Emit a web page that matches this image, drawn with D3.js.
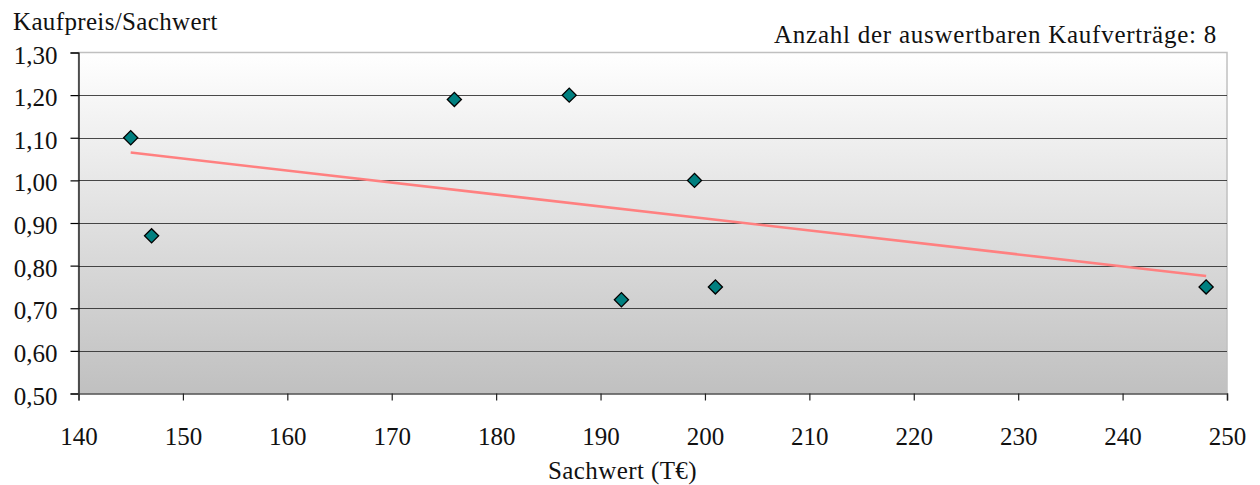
<!DOCTYPE html>
<html>
<head>
<meta charset="utf-8">
<script src="https://cdn.jsdelivr.net/npm/d3@7"></script>
<style>
  html, body { margin: 0; padding: 0; background: #fff; }
  svg { display: block; font-family: "Liberation Serif", "Times New Roman", serif; }
</style>
</head>
<body>
<svg id="chart" width="1260" height="485"></svg>
<script>
// Sachwert (T€) and Kaufpreis/Sachwert ratio for each evaluated sale
const sachwert = [145, 147, 176, 187, 199, 192, 201, 248];
const ratio    = [1.10, 0.87, 1.19, 1.20, 1.00, 0.72, 0.75, 0.75];
const xTicks = [140, 150, 160, 170, 180, 190, 200, 210, 220, 230, 240, 250];
const yTicks = [0.5, 0.6, 0.7, 0.8, 0.9, 1.0, 1.1, 1.2, 1.3];
const yTitle = "Kaufpreis/Sachwert";
const xTitle = "Sachwert (T€)";
const noteText = "Anzahl der auswertbaren Kaufverträge: " + sachwert.length;

const FONT = "'Liberation Serif', 'Times New Roman', serif";
const svg = d3.select("#chart");
const m = { left: 78.5, top: 52.5, right: 1227, bottom: 393.5 };

const x = d3.scaleLinear().domain([140, 250]).range([m.left, m.right]);
const y = d3.scaleLinear().domain([0.5, 1.3]).range([m.bottom, m.top]);
const fmt = d3.format(".2f");
const deFmt = v => fmt(v).replace(".", ",");

// background gradient of the plot area
const defs = svg.append("defs");
const grad = defs.append("linearGradient").attr("id", "bg")
  .attr("x1", 0).attr("y1", 0).attr("x2", 0).attr("y2", 1);
grad.append("stop").attr("offset", "0%").attr("stop-color", "#ffffff");
grad.append("stop").attr("offset", "100%").attr("stop-color", "#c0c0c0");

svg.append("rect")
  .attr("x", m.left).attr("y", m.top)
  .attr("width", m.right - m.left).attr("height", m.bottom - m.top)
  .attr("fill", "url(#bg)")
  .attr("stroke", "#c0c0c0").attr("stroke-width", 1.5);

// horizontal gridlines
svg.append("g")
  .selectAll("line")
  .data(yTicks.slice(1, -1))
  .join("line")
  .attr("x1", m.left).attr("x2", m.right)
  .attr("y1", d => Math.round(y(d)) + 0.5).attr("y2", d => Math.round(y(d)) + 0.5)
  .attr("stroke", "#2a2a2a").attr("stroke-opacity", 0.85).attr("stroke-width", 1.2);

// y axis
const yAxis = d3.axisLeft(y).tickValues(yTicks).tickFormat(deFmt).tickSize(8).tickPadding(13);
const gy = svg.append("g").attr("transform", `translate(${m.left},0)`).call(yAxis);
gy.attr("font-family", FONT);
gy.select(".domain").attr("stroke", "#000").attr("stroke-width", 1.2);
gy.selectAll(".tick line").attr("stroke", "#000").attr("stroke-width", 1.2);
gy.selectAll("text").attr("font-size", 25).attr("fill", "#111").attr("dy", "0.42em");

// x axis
const xAxis = d3.axisBottom(x).tickValues(xTicks).tickFormat(d3.format("d")).tickSize(7).tickPadding(27);
const gx = svg.append("g").attr("transform", `translate(0,${m.bottom})`).call(xAxis);
gx.attr("font-family", FONT);
gx.select(".domain").attr("stroke", "#555").attr("stroke-width", 1.5);
gx.selectAll(".tick line").attr("stroke", "#222").attr("stroke-width", 1.2);
gx.selectAll("text").attr("font-size", 25).attr("fill", "#111");

// least-squares trend line over the data range
const mx = d3.mean(sachwert), my = d3.mean(ratio);
const sxy = d3.sum(sachwert, (v, i) => (v - mx) * (ratio[i] - my));
const sxx = d3.sum(sachwert, v => (v - mx) * (v - mx));
const slope = sxy / sxx, icpt = my - slope * mx;
const xr = d3.extent(sachwert);
svg.append("path")
  .datum(xr.map(v => [v, icpt + slope * v]))
  .attr("d", d3.line().x(d => x(d[0])).y(d => y(d[1])))
  .attr("fill", "none").attr("stroke", "#ff8080").attr("stroke-width", 2.6);

// data markers (diamonds)
svg.append("g")
  .selectAll("path")
  .data(sachwert.map((v, i) => [v, ratio[i]]))
  .join("path")
  .attr("transform", d => `translate(${x(d[0])},${y(d[1])}) rotate(45)`)
  .attr("d", d3.symbol().type(d3.symbolSquare).size(100))
  .attr("fill", "#008080").attr("stroke", "#000").attr("stroke-width", 1.3);

// titles
svg.append("text").attr("x", 13).attr("y", 30)
  .attr("font-family", FONT).attr("font-size", 25).attr("letter-spacing", 0.35)
  .attr("fill", "#111").text(yTitle);
svg.append("text").attr("x", 1217).attr("y", 43).attr("text-anchor", "end")
  .attr("font-family", FONT).attr("font-size", 25).attr("letter-spacing", 0.75)
  .attr("fill", "#111").text(noteText);
svg.append("text").attr("x", 622.5).attr("y", 479).attr("text-anchor", "middle")
  .attr("font-family", FONT).attr("font-size", 25).attr("letter-spacing", 0.4)
  .attr("fill", "#111").text(xTitle);
</script>
</body>
</html>
